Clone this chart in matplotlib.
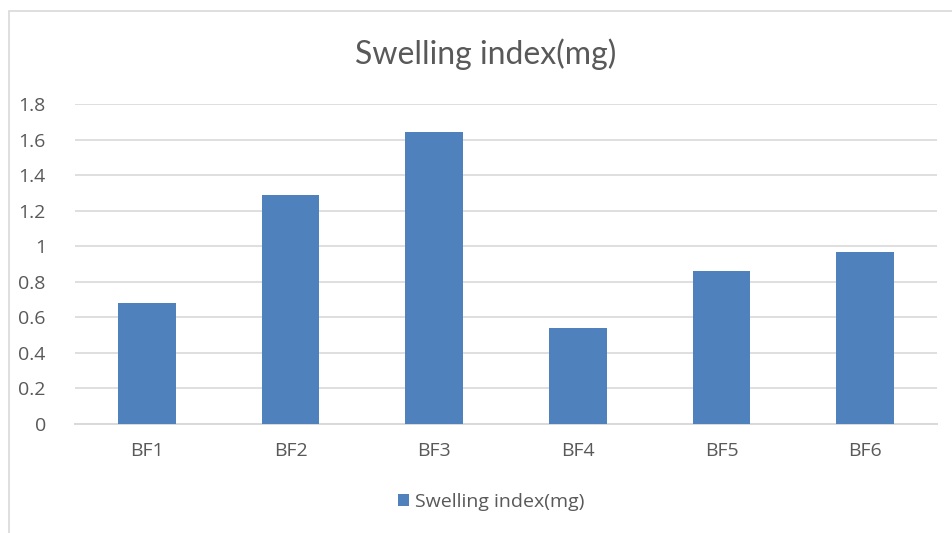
import matplotlib
matplotlib.use("Agg")
import matplotlib.pyplot as plt
from matplotlib.patches import Rectangle, Patch

categories = ["BF1", "BF2", "BF3", "BF4", "BF5", "BF6"]
swelling_index = [0.68, 1.29, 1.64, 0.54, 0.86, 0.97]
yticks = [0, 0.2, 0.4, 0.6, 0.8, 1, 1.2, 1.4, 1.6, 1.8]
ytick_labels = ["0", "0.2", "0.4", "0.6", "0.8", "1", "1.2", "1.4", "1.6", "1.8"]
series_name = "Swelling index(mg)"

bar_color = "#4F81BD"
grid_color = "#D9D9D9"
text_color = "#595959"

plt.rcParams["font.family"] = ["Open Sans", "DejaVu Sans"]

W, H = 952, 533
fig = plt.figure(figsize=(W / 100, H / 100), dpi=100)

# chart frame
fig.patches.append(Rectangle((9 / W, -0.2), 1.2, 1.2 - 11 / H,
                             transform=fig.transFigure, fill=False,
                             edgecolor=grid_color, linewidth=1.2))

ax = fig.add_axes([75 / W, 1 - 424 / H, (937 - 75) / W, (424 - 104) / H])
x = list(range(len(categories)))
ax.bar(x, swelling_index, width=0.4, color=bar_color, zorder=3)
ax.set_xlim(-0.5, len(categories) - 0.5)
ax.set_ylim(0, 1.8)
ax.set_yticks(yticks)
ax.set_yticklabels(ytick_labels)
ax.set_xticks(x)
ax.set_xticklabels(categories)
ax.yaxis.grid(True, color=grid_color, linewidth=1.2, zorder=0)
for s in ["top", "right", "left"]:
    ax.spines[s].set_visible(False)
ax.spines["bottom"].set_color(grid_color)
ax.spines["bottom"].set_linewidth(1.4)
ax.tick_params(axis="both", length=0, labelsize=14, colors=text_color)
ax.tick_params(axis="y", pad=21)
ax.tick_params(axis="x", pad=13)

fig.text(486 / W, 1 - 54 / H, series_name, ha="center", va="center",
         fontsize=23, color=text_color, family=["Lato", "DejaVu Sans"])

leg = fig.legend(handles=[Patch(facecolor=bar_color, label=series_name)],
                 loc="center", bbox_to_anchor=(491 / W, 1 - 502 / H),
                 frameon=False, fontsize=14, handlelength=0.6, handleheight=0.6,
                 handletextpad=0.3)
for t in leg.get_texts():
    t.set_color(text_color)

fig.savefig("out.png", dpi=100, facecolor="white")
